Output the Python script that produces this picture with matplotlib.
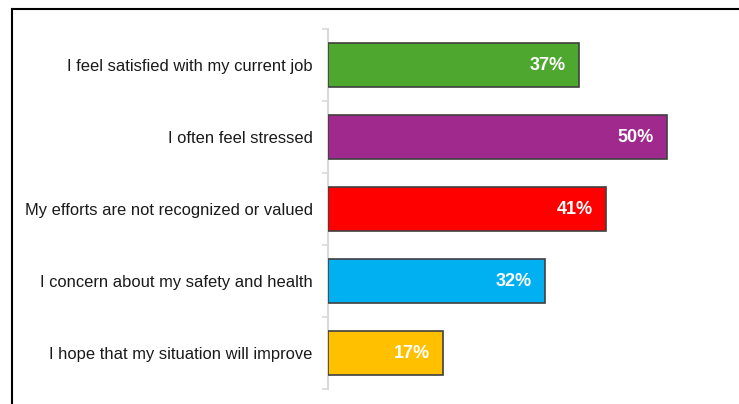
import matplotlib
matplotlib.use("Agg")
import matplotlib.pyplot as plt
from matplotlib.lines import Line2D

plt.rcParams['font.family'] = ['Liberation Sans', 'DejaVu Sans']

statements = [
    "I feel satisfied with my current job",
    "I often feel stressed",
    "My efforts are not recognized or valued",
    "I concern about my safety and health",
    "I hope that my situation will improve",
]
shares = [37, 50, 41, 32, 17]
bar_colors = ["#4EA72E", "#A0298E", "#FF0000", "#00B0F0", "#FFC000"]


def plotBars():
    fig = plt.figure(figsize=(7.39, 4.04), dpi=100)
    ax = fig.add_axes([328 / 739, 15 / 404, 372 / 739, 360 / 404])

    ypos = list(range(len(statements)))
    ax.barh(ypos, shares, height=0.6, color=bar_colors,
            edgecolor="#404040", linewidth=1.2, zorder=3)

    for y, v in zip(ypos, shares):
        ax.text(v - 1.9, y, f"{v}%", ha="right", va="center",
                color="white", fontsize=13, fontweight="bold", zorder=4)

    ax.set_xlim(0, 372 / 6.78)
    ax.set_ylim(len(statements) - 0.5, -0.5)

    ax.set_yticks(ypos)
    ax.set_yticklabels(statements, fontsize=11.9, color="#1a1a1a")
    ax.set_yticks([i - 0.5 for i in range(len(statements) + 1)], minor=True)
    ax.tick_params(axis="y", which="major", length=0, pad=11)
    ax.tick_params(axis="y", which="minor", length=4.5, width=1.2, color="#d9d9d9")
    ax.set_xticks([])

    for side in ["top", "right", "bottom"]:
        ax.spines[side].set_visible(False)
    ax.spines["left"].set_color("#d9d9d9")
    ax.spines["left"].set_linewidth(1.5)

    # outer frame lines
    fx = 11.5 / 739
    fy = 1 - 8.5 / 404
    fig.add_artist(Line2D([fx, fx], [0, fy], color="black", linewidth=1.5,
                          transform=fig.transFigure))
    fig.add_artist(Line2D([fx, 1], [fy, fy], color="black", linewidth=1.5,
                          transform=fig.transFigure))

    fig.savefig("out.png", dpi=100)


def main():
    plotBars()


if __name__ == "__main__":
    main()
